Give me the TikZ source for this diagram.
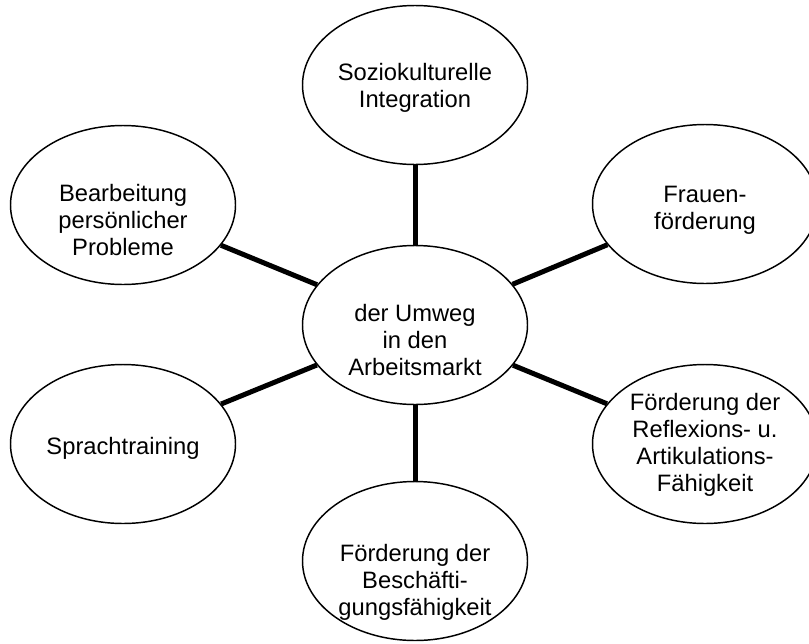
\documentclass[tikz,border=0pt]{standalone}
\usepackage{fontspec}
\setmainfont{Liberation Sans}
\usetikzlibrary{shapes.geometric, positioning}

\begin{document}
\begin{tikzpicture}[
    x=0.75pt, y=-0.75pt,
    bubble/.style={draw, ellipse, line width=1.1pt, minimum width=168.75pt, minimum height=119.25pt, inner sep=0pt},
    caption/.style={align=center, inner sep=0pt, font=\fontsize{17.8}{20.25}\selectfont},
    spoke/.style={line width=3.75pt}
]
    \clip (0,0) rectangle (809,643);

    % Bubbles
    \node[bubble] (core) at (415,325) {};
    \node[bubble] (soc) at (415,85) {};
    \node[bubble] (frau) at (705,204) {};
    \node[bubble] (bearb) at (123,205) {};
    \node[bubble] (sprach) at (123,444) {};
    \node[bubble] (refl) at (705,444) {};
    \node[bubble] (besch) at (415,561) {};

    % Spokes
    \draw[spoke] (core) -- (soc);
    \draw[spoke] (core) -- (frau);
    \draw[spoke] (core) -- (bearb);
    \draw[spoke] (core) -- (sprach);
    \draw[spoke] (core) -- (refl);
    \draw[spoke] (core) -- (besch);

    % Texts
    \node[caption] (core-t) at (415,340) {der Umweg\\in den\\Arbeitsmarkt};
    \node[caption] (soc-t) at (415,88) {Soziokulturelle\\Integration};
    \node[caption] (frau-t) at (705,210) {Frauen-\\förderung};
    \node[caption] (bearb-t) at (123,220) {Bearbeitung\\persönlicher\\Probleme};
    \node[caption] (sprach-t) at (123,448) {Sprachtraining};
    \node[caption] (refl-t) at (705,445) {Förderung der\\Reflexions- u.\\Artikulations-\\Fähigkeit};
    \node[caption] (besch-t) at (415,582) {Förderung der\\Beschäfti-\\gungsfähigkeit};
\end{tikzpicture}
\end{document}
